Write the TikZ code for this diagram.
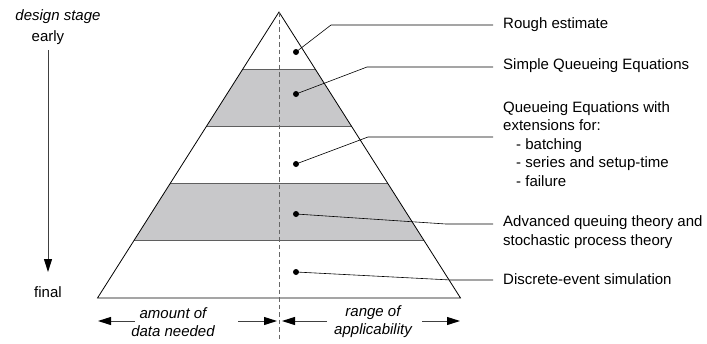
\documentclass[tikz,border=0pt]{standalone}
\usepackage{fontspec}
\setmainfont{Liberation Sans}
\usetikzlibrary{arrows.meta,calc}
\definecolor{bandgray}{RGB}{200,200,202}
\definecolor{sepgray}{RGB}{95,95,95}
\begin{document}
\begin{tikzpicture}[x=1pt,y=-1pt,
  txt/.style={font=\fontsize{15}{18.5}\selectfont, inner sep=0pt},
  lbl/.style={txt, anchor=west, align=left},
  itl/.style={txt, font=\fontsize{15}{18}\selectfont\itshape, align=center},
  band/.style={fill=bandgray, draw=none},
  sepline/.style={draw=sepgray, line width=1.1pt},
  outline/.style={draw=black, line width=0.8pt},
  midline/.style={draw=black!60, line width=0.8pt, dash pattern=on 4.5pt off 3pt},
  leader/.style={draw=black, line width=0.6pt},
  dotmark/.style={fill=black},
  bigarrow/.style={draw=black!75, line width=1pt, -{Triangle[length=13pt,width=8pt,color=black]}},
]
\useasboundingbox (0,0) rectangle (707,343);

% pyramid corners
\coordinate (apex) at (279,12);
\coordinate (bl) at (97.5,298);
\coordinate (br) at (460.5,298);

% band boundaries
\foreach \i/\t in {1/0.2,2/0.4,3/0.6,4/0.8}{
  \coordinate (L\i) at ($(apex)!\t!(bl)$);
  \coordinate (R\i) at ($(apex)!\t!(br)$);
}

% gray bands
\fill[band] (L1) -- (R1) -- (R2) -- (L2) -- cycle;
\fill[band] (L3) -- (R3) -- (R4) -- (L4) -- cycle;

% separators
\foreach \i in {1,2,3,4}{ \draw[sepline] (L\i) -- (R\i); }

% outline
\draw[outline, line join=miter] (apex) -- (br) -- (bl) -- cycle;

% dashed centre line
\coordinate (mtop) at (279,12);
\coordinate (mbot) at (279,341);
\draw[midline] (mtop) -- (mbot);

% dots
\coordinate (d1) at (296,52);
\coordinate (d2) at (296,94);
\coordinate (d3) at (296,164);
\coordinate (d4) at (296,214);
\coordinate (d5) at (296,272);

% leader bends and ends
\coordinate (b1) at (331,25);   \coordinate (e1) at (493,25);
\coordinate (b2) at (367,67);   \coordinate (e2) at (493,67);
\coordinate (b3) at (368,137);  \coordinate (e3) at (493,137);
\coordinate (b4) at (446,224);  \coordinate (e4) at (493,224);
\coordinate (b5) at (451,280);  \coordinate (e5) at (493,280);

\foreach \i in {1,...,5}{
  \draw[leader] (d\i) -- (b\i) -- (e\i);
  \fill[dotmark] (d\i) circle (3pt);
}

% right labels
\node[lbl] (t1) at (503,25) {Rough estimate};
\node[lbl] (t2) at (503,66) {Simple Queueing Equations};
\node[lbl] (t3) at (503,144) {Queueing Equations with\\extensions for:\\\hspace*{13pt}- batching\\\hspace*{13pt}- series and setup-time\\\hspace*{13pt}- failure};
\node[lbl] (t4) at (503,232) {Advanced queuing theory and\\stochastic process theory};
\node[lbl] (t5) at (503,279) {Discrete-event simulation};

% left labels
\node[itl] (ds) at (58,17) {design stage};
\node[txt] (early) at (48,38) {early};
\node[txt] (final) at (48,292) {final};
\coordinate (va) at (48,50);
\coordinate (vb) at (48,272);
\draw[bigarrow] (va) -- (vb);

% bottom labels
\node[itl] (amt) at (173,322) {amount of\\data needed};
\node[itl] (rng) at (373,322) {range of\\applicability};
\coordinate (a1s) at (135,321); \coordinate (a1e) at (98,321);
\coordinate (a2s) at (238,321); \coordinate (a2e) at (277,321);
\coordinate (a3s) at (327,321); \coordinate (a3e) at (282,321);
\coordinate (a4s) at (422,321); \coordinate (a4e) at (460,321);
\draw[bigarrow] (a1s) -- (a1e);
\draw[bigarrow] (a2s) -- (a2e);
\draw[bigarrow] (a3s) -- (a3e);
\draw[bigarrow] (a4s) -- (a4e);
\end{tikzpicture}
\end{document}
